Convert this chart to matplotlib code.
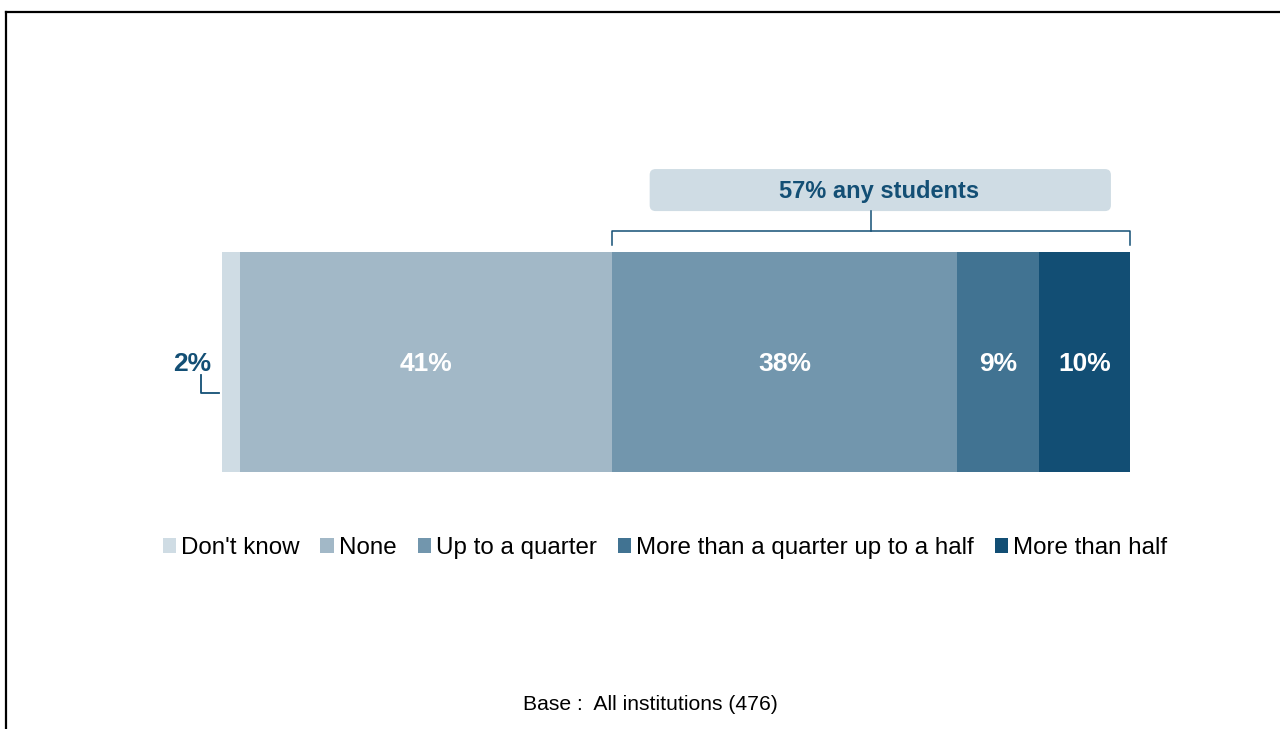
import matplotlib.pyplot as plt
from matplotlib.lines import Line2D
from matplotlib.patches import FancyBboxPatch, Patch

plt.rcParams['font.family'] = ['Liberation Sans', 'DejaVu Sans']

categories = ["Don't know", 'None', 'Up to a quarter',
              'More than a quarter up to a half', 'More than half']
values = [2, 41, 38, 9, 10]
colors = ['#cfdce4', '#a2b8c7', '#7296ad', '#417392', '#124e74']
label_color = '#134f75'
footer = 'Base :  All institutions (476)'


def stacked_bar(ax):
    """ Draw a single 100% stacked bar with value labels """
    left = 0
    for cat, val, col in zip(categories, values, colors):
        ax.barh(0, val, left=left, height=1, color=col, label=cat)
        if cat != "Don't know":
            ax.text(left + val / 2, -0.01, f'{val}%', ha='center',
                    va='center', color='white', fontsize=19,
                    fontweight='bold')
        left += val
    ax.set_xlim(0, sum(values))
    ax.set_ylim(-0.5, 0.5)
    ax.axis('off')


def small_label(ax):
    """ Label the thin first segment from outside the bar """
    ax.text(-1.2, -0.01, f'{values[0]}%', ha='right', va='center',
            color=label_color, fontsize=19, fontweight='bold')
    ax.plot([-2.3, -2.3, -0.35], [-0.06, -0.14, -0.14], color=label_color,
            lw=1.3, clip_on=False)


def any_students(ax):
    """ Bracket over all groups that have some students, with a total box """
    start = sum(values[:2])
    end = sum(values)
    total = sum(values[2:])
    mid = (start + end) / 2
    ax.plot([start, start, end, end], [0.532, 0.596, 0.596, 0.532],
            color=label_color, lw=1.1, clip_on=False)
    ax.plot([mid, mid], [0.596, 0.686], color=label_color, lw=1.1,
            clip_on=False)
    box = FancyBboxPatch((mid - 24.4, 0.686), 50.8, 0.191,
                         boxstyle='round,pad=0,rounding_size=0.65',
                         mutation_aspect=9.08 / 220, facecolor='#cfdce4',
                         edgecolor='none', clip_on=False)
    ax.add_patch(box)
    ax.text(mid + 0.9, 0.775, f'{total}% any students', ha='center',
            va='center', color=label_color, fontsize=17, fontweight='bold')


def main():
    fig = plt.figure(figsize=(12.8, 7.29), dpi=100)
    ax = fig.add_axes([222 / 1280, 1 - 472 / 729, 908 / 1280, 220 / 729])
    stacked_bar(ax)
    small_label(ax)
    any_students(ax)

    handles = [Patch(facecolor=c, edgecolor='none') for c in colors]
    fig.legend(handles, categories, loc='center', ncol=5,
               bbox_to_anchor=(665 / 1280, 1 - 548 / 729), frameon=False,
               fontsize=17.4, handlelength=0.54, handleheight=0.54,
               handletextpad=0.22, columnspacing=0.87)

    fig.text(650 / 1280, 1 - 704 / 729, footer, ha='center', va='center',
             fontsize=15.2)

    # open frame along the top and left edge
    fig.add_artist(Line2D([5.5 / 1280, 5.5 / 1280], [0, 1 - 11.5 / 729],
                          color='black', lw=1.6))
    fig.add_artist(Line2D([5.5 / 1280, 1], [1 - 11.5 / 729, 1 - 11.5 / 729],
                          color='black', lw=1.6))

    fig.savefig('out.png', dpi=100)


if __name__ == "__main__":
    main()
